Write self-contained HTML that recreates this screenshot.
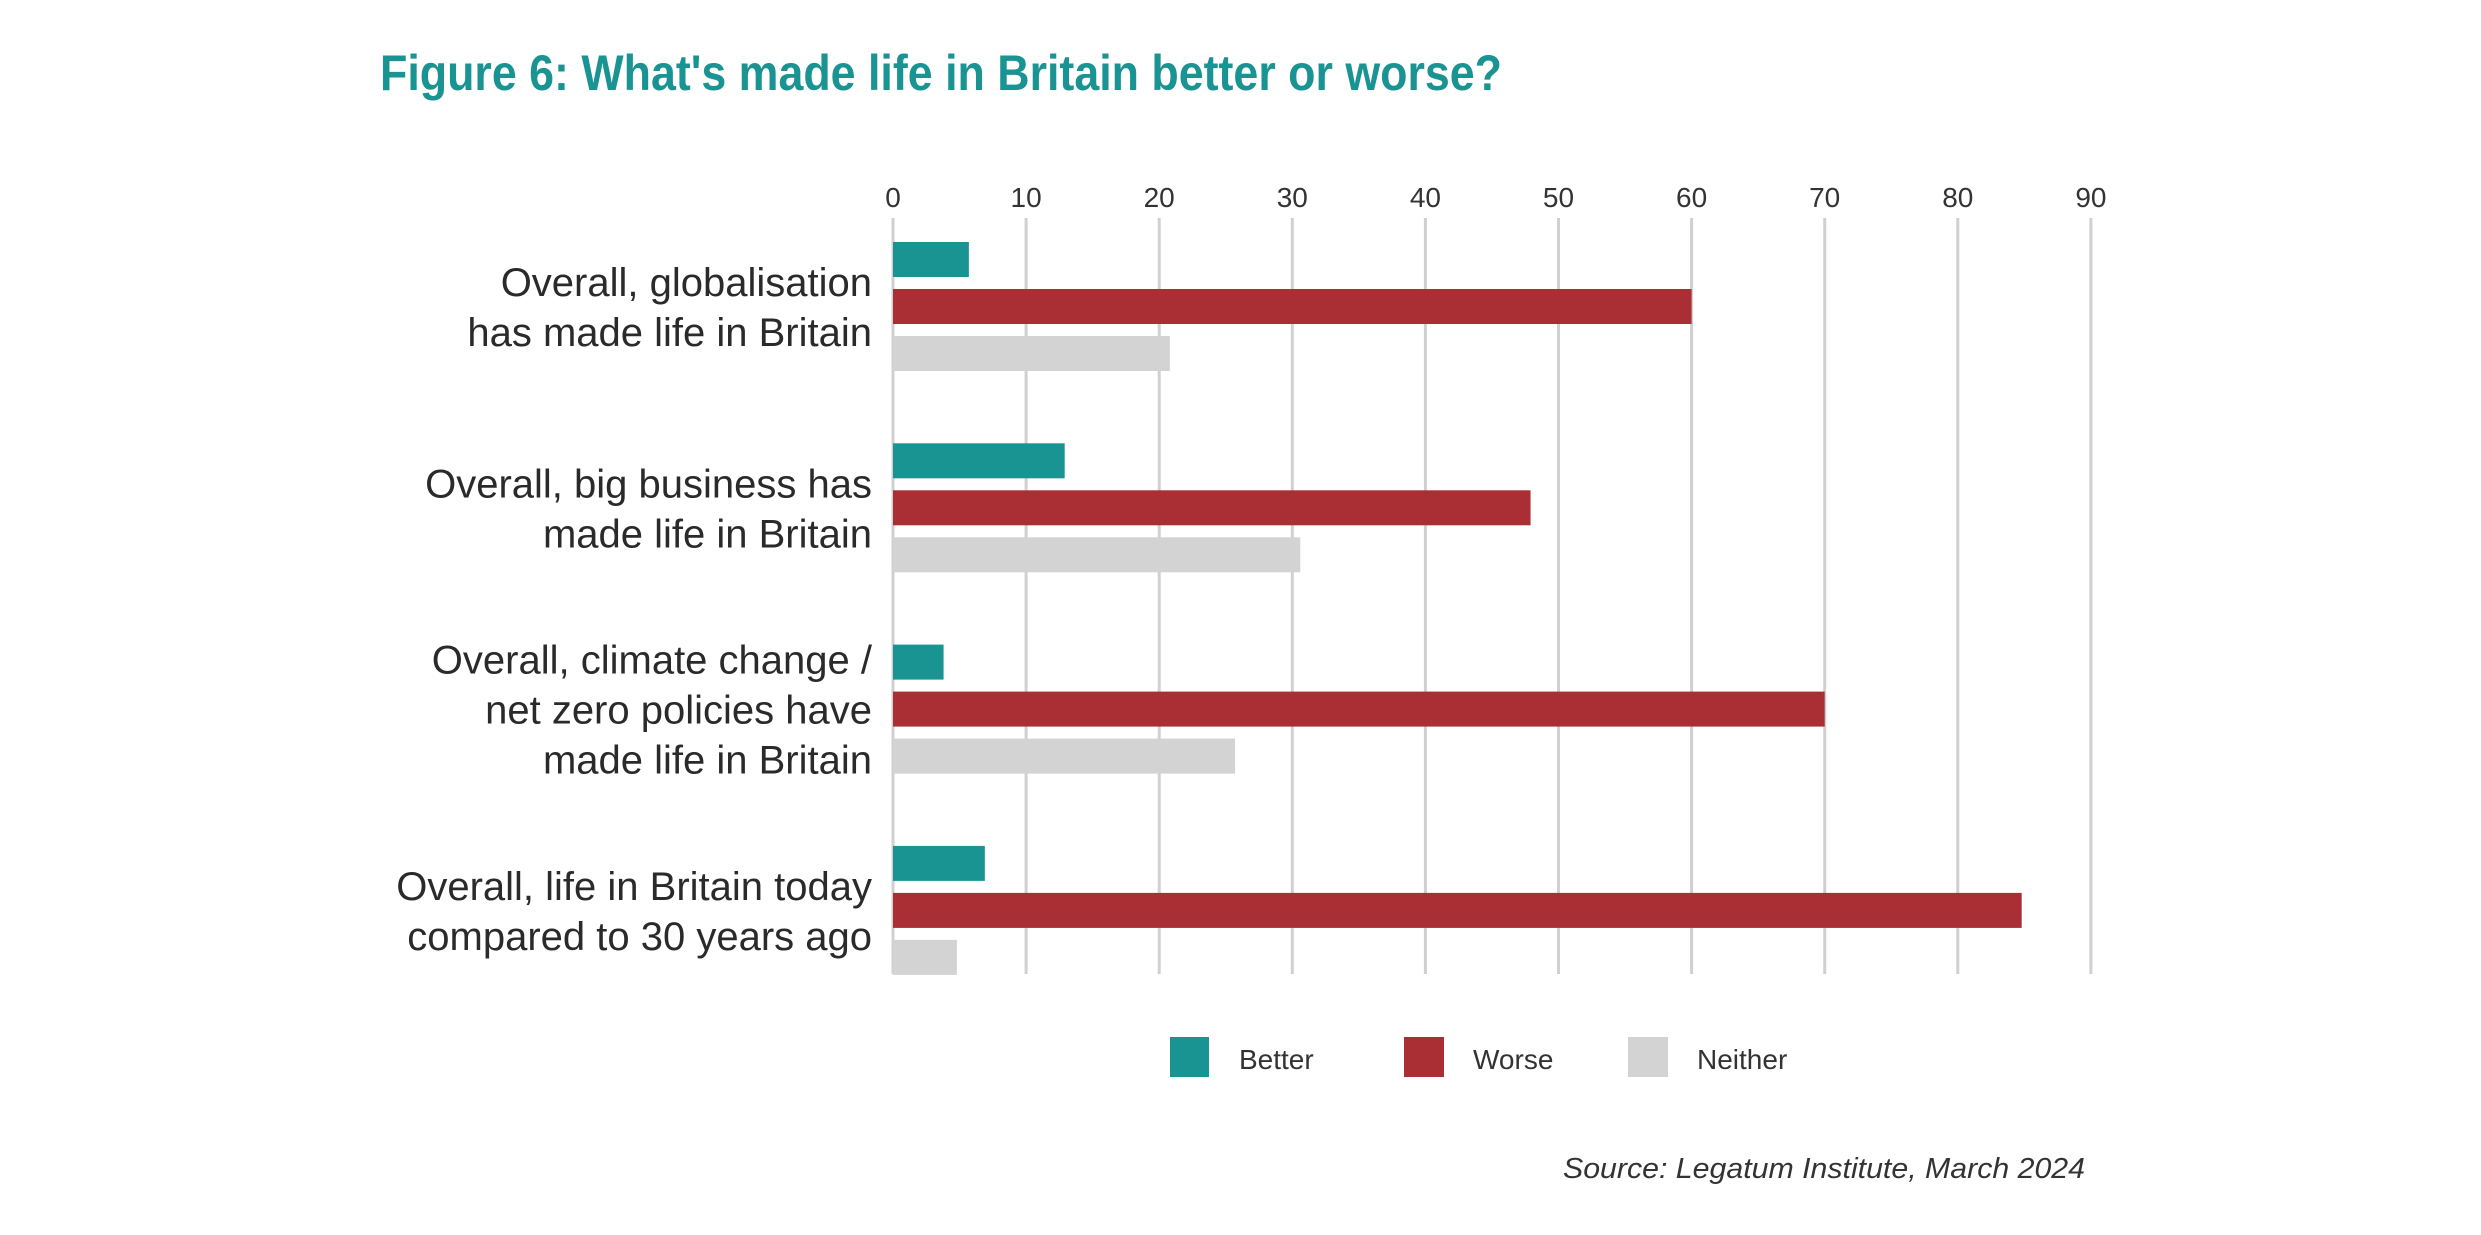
<!DOCTYPE html>
<html><head><meta charset="utf-8"><style>
html,body{margin:0;padding:0;background:#fff;}
svg{display:block;font-family:"Liberation Sans",sans-serif;}
</style></head><body>
<svg id="chart" width="2481" height="1235" viewBox="0 0 2481 1235">
<text x="380" y="90" font-size="50" font-weight="bold" fill="#1a9393" textLength="1122" lengthAdjust="spacingAndGlyphs">Figure 6: What's made life in Britain better or worse?</text>
<g id="grid"></g><g id="bars"></g><g id="labels"></g>
<g>
<rect x="1170" y="1037" width="39" height="40" fill="#1a9393"/>
<text x="1239" y="1069" font-size="28" fill="#333">Better</text>
<rect x="1404" y="1037" width="40" height="40" fill="#a92f35"/>
<text x="1473" y="1069" font-size="28" fill="#333">Worse</text>
<rect x="1628" y="1037" width="40" height="40" fill="#d3d3d3"/>
<text x="1697" y="1069" font-size="28" fill="#333">Neither</text>
</g>
<text x="1563" y="1178" font-size="29" font-style="italic" fill="#333" textLength="522" lengthAdjust="spacingAndGlyphs">Source: Legatum Institute, March 2024</text>
</svg>
<script>
const categories=[["Overall, globalisation","has made life in Britain"],["Overall, big business has","made life in Britain"],["Overall, climate change /","net zero policies have","made life in Britain"],["Overall, life in Britain today","compared to 30 years ago"]];
const better=[5.7,12.9,3.8,6.9];
const worse=[60.0,47.9,70.0,84.8];
const neither=[20.8,30.6,25.7,4.8];
const ticks=[0,10,20,30,40,50,60,70,80,90];
const NS="http://www.w3.org/2000/svg";
const x0=893,pxPer=13.31;
const xs=v=>x0+v*pxPer;
const groupTop=i=>242+i*201.3;
function mk(t,a,p){const e=document.createElementNS(NS,t);for(const k in a)e.setAttribute(k,a[k]);p.appendChild(e);return e;}
const grid=document.getElementById('grid'),bars=document.getElementById('bars'),labels=document.getElementById('labels');
ticks.forEach(t=>{
 const l=mk('line',{x1:xs(t),x2:xs(t),y1:218,y2:974,stroke:'#d0d0d0','stroke-width':3},grid);
 
 
 const tx=mk('text',{x:xs(t),y:207,'font-size':28,fill:'#333','text-anchor':'middle'},grid);
 tx.textContent=t;
 
 
});
const series=[[better,'#1a9393','better'],[worse,'#a92f35','worse'],[neither,'#d3d3d3','neither']];
categories.forEach((c,i)=>{
 const top=groupTop(i);
 series.forEach((s,j)=>{
  const r=mk('rect',{x:x0,y:top+j*47,width:xs(s[0][i])-x0,height:35,fill:s[1]},bars);
  
  
 });
 const center=top+65;
 const n=c.length;
 c.forEach((line,k)=>{
  const y=center+14+(k-(n-1)/2)*50;
  const t=mk('text',{x:872,y:y,'font-size':40,fill:'#2a2a2a','text-anchor':'end'},labels);
  t.textContent=line;
  
  
 });
});
</script>
</body></html>
